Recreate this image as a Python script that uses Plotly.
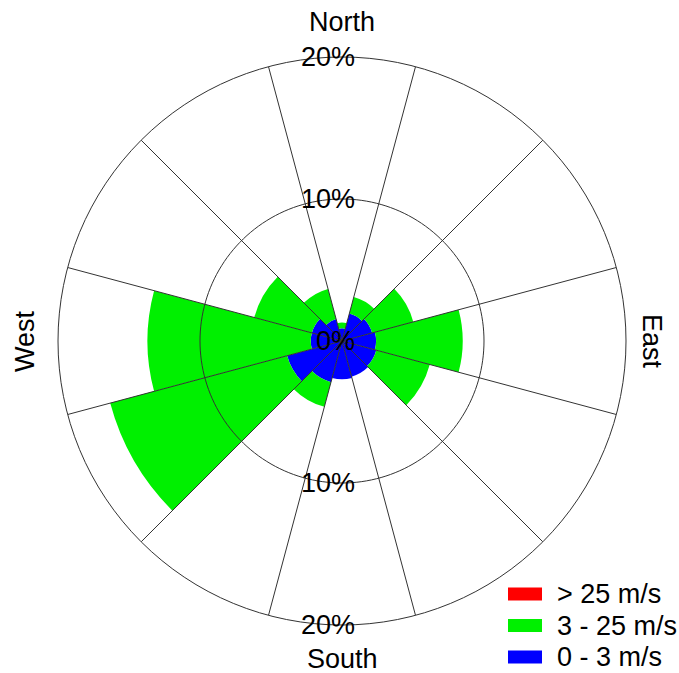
import numpy as np
import plotly.graph_objects as go

# Wind directions (sector centres, degrees clockwise from north)
directions = [0, 30, 60, 90, 120, 150, 180, 210, 240, 270, 300, 330]

# Frequency (%) per speed class, stacked from the centre outwards
speed_0_3 = [0.9, 2.0, 2.2, 2.4, 2.5, 2.6, 2.7, 3.0, 4.0, 2.2, 2.2, 1.6]
speed_3_25 = [0.4, 1.2, 3.0, 6.1, 3.9, 0.0, 0.0, 1.8, 12.9, 11.5, 4.2, 2.2]
speed_25_up = [0.0] * 12

class_names = ["0 - 3 m/s", "3 - 25 m/s", "> 25 m/s"]
class_colors = ["#0000FF", "#00F000", "#FF0000"]

radial_ticks = [0, 10, 20]
sector_width = 30
r_max = 20

FONT = "Liberation Sans, Arial, sans-serif"
GRID = "#333333"

W, H = 679, 673
ML, MR, MT, MB = 58, 53, 57, 48
PW, PH = W - ML - MR, H - MT - MB


def px_x(x):
    return (x - ML) / PW


def px_y(y):
    return 1 - (y - MT) / PH


fig = go.Figure()

for name, vals, col in zip(class_names, [speed_0_3, speed_3_25, speed_25_up], class_colors):
    fig.add_trace(go.Barpolar(
        r=vals, theta=directions, width=[sector_width] * len(directions),
        name=name, marker=dict(color=col, line=dict(width=0)),
        showlegend=False, hoverinfo="skip",
    ))

# Sector boundary spokes and inner ring drawn over the bars
bounds = [d + sector_width / 2 for d in directions]
spoke_r, spoke_t = [], []
for b in bounds:
    spoke_r += [0, r_max, None]
    spoke_t += [b, b, None]
fig.add_trace(go.Scatterpolar(r=spoke_r, theta=spoke_t, mode="lines",
                              line=dict(color=GRID, width=1),
                              showlegend=False, hoverinfo="skip"))
ring_theta = np.linspace(0, 360, 181)
for t in radial_ticks[1:-1]:
    fig.add_trace(go.Scatterpolar(r=[t] * len(ring_theta), theta=ring_theta, mode="lines",
                                  line=dict(color=GRID, width=1),
                                  showlegend=False, hoverinfo="skip"))

fig.update_layout(
    width=W, height=H,
    margin=dict(l=ML, r=MR, t=MT, b=MB, autoexpand=False),
    paper_bgcolor="white",
    font=dict(family=FONT, color="black", size=27),
    showlegend=False,
    polar=dict(
        domain=dict(x=[0, 1], y=[0, 1]),
        bgcolor="white",
        barmode="stack",
        angularaxis=dict(direction="clockwise", rotation=90,
                         tickvals=bounds, showticklabels=False, ticks="",
                         showgrid=False, showline=True, linecolor=GRID, linewidth=1),
        radialaxis=dict(range=[0, r_max], showticklabels=False, ticks="",
                        showgrid=False, showline=False),
    ),
)

annotations = []
for v in radial_ticks:
    ys = [0.5] if v == 0 else [0.5 + 0.5 * v / r_max, 0.5 - 0.5 * v / r_max]
    for y in ys:
        annotations.append(dict(x=0.5, y=y, xref="paper", yref="paper", text=f"{v}%",
                                showarrow=False, xanchor="right", yanchor="middle", xshift=15))
annotations += [
    dict(x=0.5, y=1, xref="paper", yref="paper", text="North", showarrow=False,
         xanchor="center", yanchor="middle", yshift=35),
    dict(x=0.5, y=0, xref="paper", yref="paper", text="South", showarrow=False,
         xanchor="center", yanchor="middle", yshift=-34),
    dict(x=0, y=0.5, xref="paper", yref="paper", text="West", showarrow=False,
         xanchor="center", yanchor="middle", xshift=-33, textangle=-90),
    dict(x=1, y=0.5, xref="paper", yref="paper", text="East", showarrow=False,
         xanchor="center", yanchor="middle", xshift=26, textangle=90),
]

# Speed-class key in the lower right corner (strongest class on top)
shapes = []
row_top, row_step = 594, 31.5
for i, (name, col) in enumerate(reversed(list(zip(class_names, class_colors)))):
    yc = row_top + i * row_step
    shapes.append(dict(type="rect", xref="paper", yref="paper",
                       x0=px_x(508), x1=px_x(542), y0=px_y(yc + 6.5), y1=px_y(yc - 6.5),
                       fillcolor=col, line=dict(width=0)))
    annotations.append(dict(x=px_x(555), y=px_y(yc), xref="paper", yref="paper", text=name,
                            showarrow=False, xanchor="left", yanchor="middle",
                            font=dict(size=27)))

fig.update_layout(annotations=annotations, shapes=shapes)

fig.write_html("out.html")
